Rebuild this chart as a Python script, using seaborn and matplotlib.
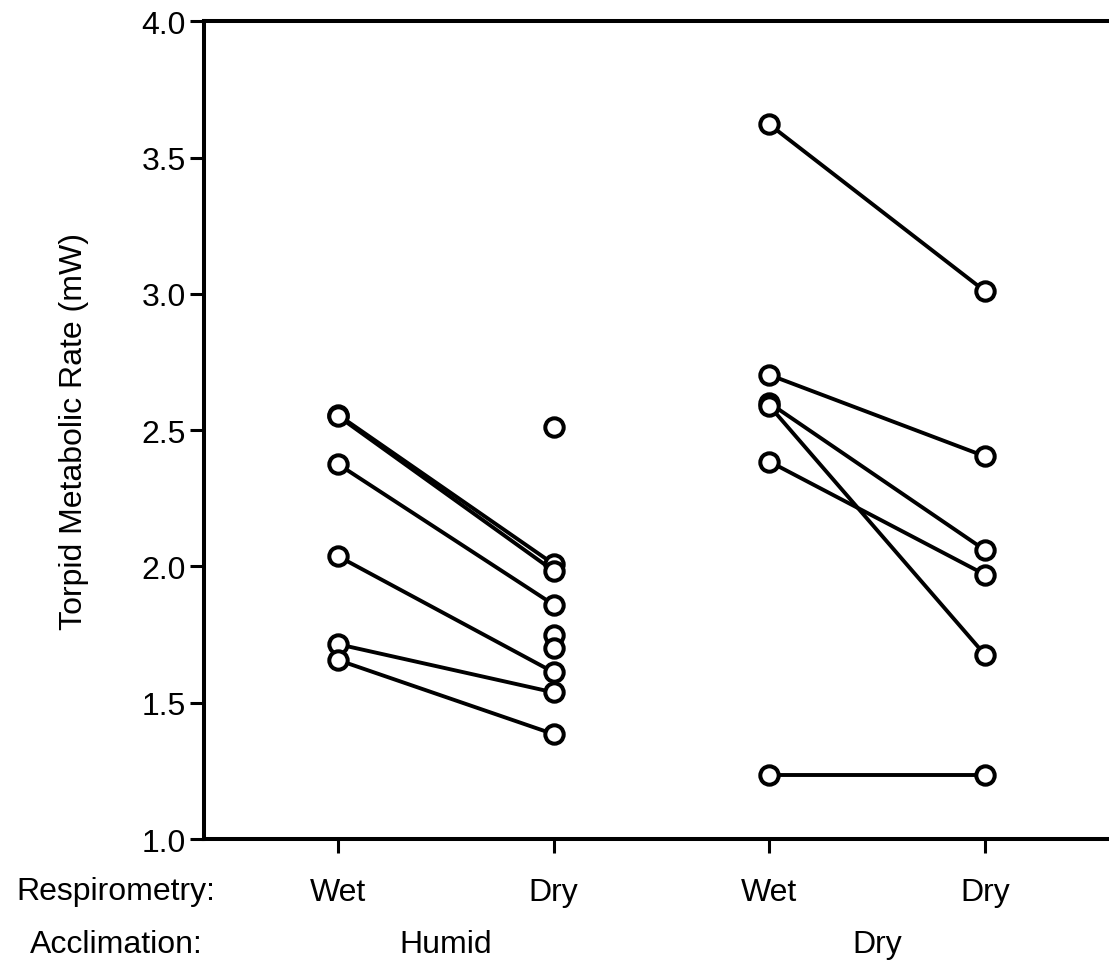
import numpy as np
import pandas as pd
import matplotlib
matplotlib.use("Agg")
import matplotlib.pyplot as plt
import matplotlib.transforms as mtransforms
import seaborn as sns

# Torpid metabolic rate (mW) per animal; NaN = no wet-chamber measurement
humid_wet = [2.557, 2.552, 2.376, 2.038, 1.715, 1.657, np.nan, np.nan, np.nan]
humid_dry = [2.009, 1.984, 1.860, 1.612, 1.538, 1.385, 2.512, 1.748, 1.700]
dry_wet = [3.622, 2.703, 2.600, 2.590, 2.385, 1.235]
dry_dry = [3.010, 2.404, 2.060, 1.676, 1.970, 1.235]

respirometry_labels = ["Wet", "Dry", "Wet", "Dry"]
acclimation_labels = ["Humid", "Dry"]
y_ticks = [1.0, 1.5, 2.0, 2.5, 3.0, 3.5, 4.0]

rows = []
for group, (wet, dry), base in (("Humid", (humid_wet, humid_dry), 0),
                                ("Dry", (dry_wet, dry_dry), 2)):
    for i, (w, d) in enumerate(zip(wet, dry)):
        animal = f"{group}-{i}"
        rows.append(dict(animal=animal, pos=base, rate=w))
        rows.append(dict(animal=animal, pos=base + 1, rate=d))
df = pd.DataFrame(rows).dropna()

sns.set_theme(style="white")
plt.rcParams["font.family"] = ["Liberation Sans", "DejaVu Sans"]
plt.rcParams["text.color"] = "black"
plt.rcParams["axes.labelcolor"] = "black"

fig = plt.figure(figsize=(11.09, 9.70), dpi=100)
ax = fig.add_axes([0.184, 0.134, 0.816, 0.843])

sns.lineplot(data=df, x="pos", y="rate", units="animal", estimator=None,
             color="black", linewidth=2.8, legend=False, ax=ax, zorder=2)
sns.scatterplot(data=df, x="pos", y="rate", marker="o", s=175,
                facecolor="white", edgecolor="black", linewidth=2.9,
                legend=False, ax=ax, zorder=3)

ax.set_xlim(-0.62, 3.575)
ax.set_ylim(1.0, 4.0)
ax.set_yticks(y_ticks)
ax.set_yticklabels([f"{v:.1f}" for v in y_ticks])
ax.set_xticks(range(len(respirometry_labels)))
ax.set_xticklabels(respirometry_labels)
ax.set_xlabel("")
ax.set_ylabel("Torpid Metabolic Rate (mW)", fontsize=23, labelpad=38,
              color="black")

for side in ("left", "bottom", "top"):
    ax.spines[side].set_visible(True)
    ax.spines[side].set_linewidth(2.9)
    ax.spines[side].set_color("black")
ax.spines["right"].set_visible(False)

ax.tick_params(axis="both", which="major", direction="out", length=10,
               width=2.2, color="black", labelsize=23, labelcolor="black",
               left=True, bottom=True)
ax.tick_params(axis="y", pad=3)
ax.tick_params(axis="x", pad=17)

# Row captions under the x axis
fig.text(116 / 1109, 1 - 892 / 970, "Respirometry:", ha="center", va="center",
         fontsize=23, color="black")
fig.text(116 / 1109, 1 - 945 / 970, "Acclimation:", ha="center", va="center",
         fontsize=23, color="black")
trans = mtransforms.blended_transform_factory(ax.transData, fig.transFigure)
for xc, lab in zip((0.5, 2.5), acclimation_labels):
    ax.text(xc, 1 - 945 / 970, lab, transform=trans, ha="center", va="center",
            fontsize=23, color="black")

fig.savefig("out.png", dpi=100)
